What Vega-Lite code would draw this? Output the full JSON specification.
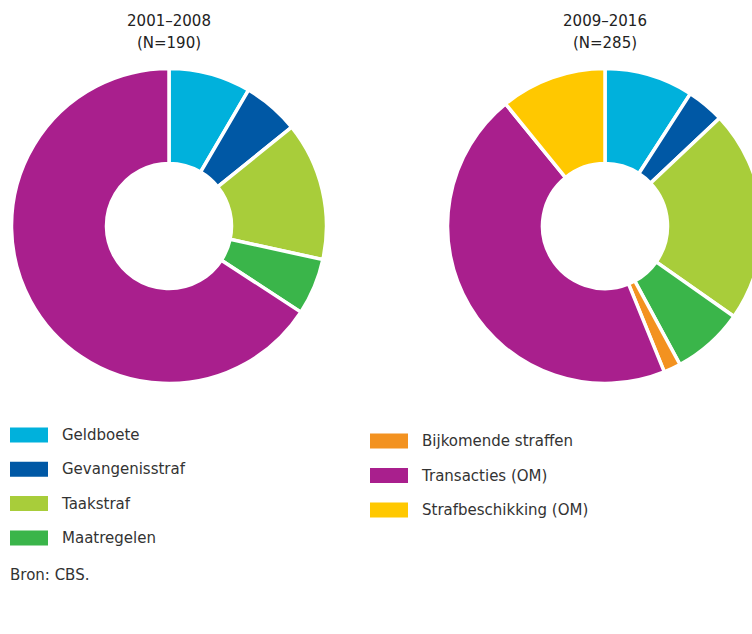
{
  "$schema": "https://vega.github.io/schema/vega-lite/v6.json",
  "width": 752,
  "height": 560,
  "padding": 0,
  "autosize": {"type": "pad"},
  "view": {"stroke": null},
  "config": {"font": "DejaVu Sans", "legend": {"labelFont": "DejaVu Sans"}},
  "title": {"text": "Bron: CBS.", "orient": "bottom", "anchor": "start", "frame": "group", "dx": 10, "offset": 8, "fontSize": 15, "fontWeight": "normal", "color": "#333333", "font": "DejaVu Sans"},
  "data": {"values": [
    {"period": "2001–2008", "category": "Geldboete", "count": 16, "ord": 1},
    {"period": "2001–2008", "category": "Gevangenisstraf", "count": 11, "ord": 2},
    {"period": "2001–2008", "category": "Taakstraf", "count": 27, "ord": 3},
    {"period": "2001–2008", "category": "Maatregelen", "count": 11, "ord": 4},
    {"period": "2001–2008", "category": "Transacties (OM)", "count": 125, "ord": 6},
    {"period": "2009–2016", "category": "Geldboete", "count": 26, "ord": 1},
    {"period": "2009–2016", "category": "Gevangenisstraf", "count": 11, "ord": 2},
    {"period": "2009–2016", "category": "Taakstraf", "count": 62, "ord": 3},
    {"period": "2009–2016", "category": "Maatregelen", "count": 21, "ord": 4},
    {"period": "2009–2016", "category": "Bijkomende straffen", "count": 5, "ord": 5},
    {"period": "2009–2016", "category": "Transacties (OM)", "count": 129, "ord": 6},
    {"period": "2009–2016", "category": "Strafbeschikking (OM)", "count": 31, "ord": 7}
  ]},
  "layer": [
    {
      "transform": [
        {"stack": "count", "groupby": ["period"], "sort": [{"field": "ord"}], "as": ["s0", "s1"], "offset": "normalize"},
        {"filter": {"field": "category", "oneOf": ["Geldboete", "Gevangenisstraf", "Taakstraf", "Maatregelen"]}}
      ],
      "mark": {"type": "arc", "innerRadius": 62.5, "outerRadius": 157.5, "stroke": "white", "strokeWidth": 3.5, "clip": true},
      "encoding": {
        "x": {"field": "period", "type": "nominal", "scale": {"type": "point", "domain": ["2001–2008", "2009–2016"], "range": [169, 605], "padding": 0}, "axis": null},
        "y": {"datum": "pie", "type": "nominal", "scale": {"type": "point", "domain": ["title", "pie"], "range": [21, 226], "padding": 0}, "axis": null},
        "theta": {"field": "s0", "type": "quantitative", "scale": {"domain": [0, 1], "range": [0, 6.283185307]}},
        "theta2": {"field": "s1"},
        "color": {"field": "category", "type": "nominal",
          "scale": {"domain": ["Geldboete", "Gevangenisstraf", "Taakstraf", "Maatregelen"], "range": ["#00b1dc", "#0058a5", "#a8cd3a", "#3ab54a"]},
          "legend": {"title": null, "orient": "none", "legendX": 10, "legendY": 416, "symbolType": "M-1,-0.395H1V0.395H-1Z", "symbolSize": 1444, "symbolStrokeWidth": 0, "labelOffset": 14, "labelFontSize": 15, "labelColor": "#333333", "labelLimit": 400, "rowPadding": 7.3, "symbolOpacity": 1}
        }
      }
    },
    {
      "transform": [
        {"stack": "count", "groupby": ["period"], "sort": [{"field": "ord"}], "as": ["s0", "s1"], "offset": "normalize"},
        {"filter": {"field": "category", "oneOf": ["Bijkomende straffen", "Transacties (OM)", "Strafbeschikking (OM)"]}}
      ],
      "mark": {"type": "arc", "innerRadius": 62.5, "outerRadius": 157.5, "stroke": "white", "strokeWidth": 3.5, "clip": true},
      "encoding": {
        "x": {"field": "period", "type": "nominal"},
        "y": {"datum": "pie", "type": "nominal"},
        "theta": {"field": "s0", "type": "quantitative"},
        "theta2": {"field": "s1"},
        "color": {"field": "category", "type": "nominal",
          "scale": {"domain": ["Bijkomende straffen", "Transacties (OM)", "Strafbeschikking (OM)"], "range": ["#f39220", "#a91f8d", "#ffc800"]},
          "legend": {"title": null, "orient": "none", "legendX": 370, "legendY": 422, "symbolType": "M-1,-0.395H1V0.395H-1Z", "symbolSize": 1444, "symbolStrokeWidth": 0, "labelOffset": 14, "labelFontSize": 15, "labelColor": "#333333", "labelLimit": 400, "rowPadding": 7.5, "symbolOpacity": 1}
        }
      }
    },
    {
      "transform": [
        {"aggregate": [{"op": "sum", "field": "count", "as": "n"}], "groupby": ["period"]},
        {"calculate": "datum.period + '\\n(N=' + datum.n + ')'", "as": "label"}
      ],
      "mark": {"type": "text", "lineBreak": "\n", "fontSize": 15, "lineHeight": 22, "baseline": "middle", "align": "center", "color": "#222222"},
      "encoding": {
        "x": {"field": "period", "type": "nominal"},
        "y": {"datum": "title", "type": "nominal"},
        "text": {"field": "label"}
      }
    }
  ],
  "resolve": {"scale": {"color": "independent"}, "legend": {"color": "independent"}}
}
